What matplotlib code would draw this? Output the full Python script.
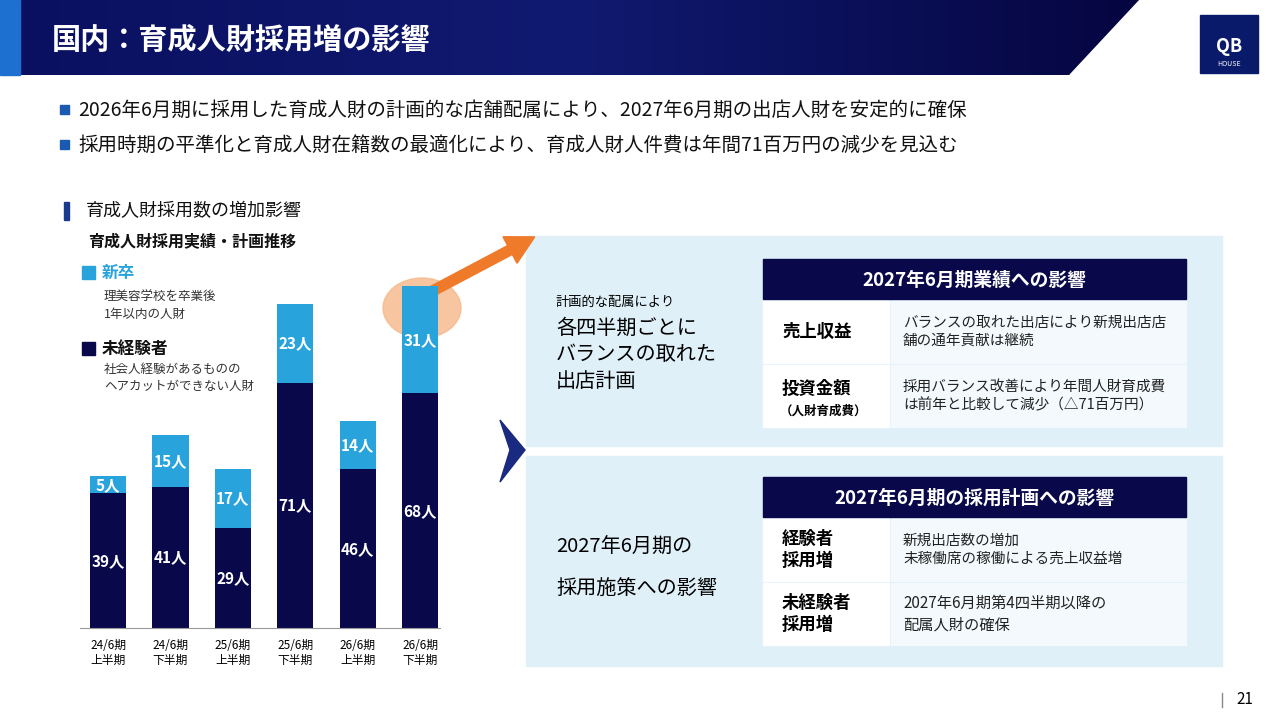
import numpy as np
import matplotlib.pyplot as plt
from matplotlib.patches import Rectangle, Polygon, FancyArrow, Ellipse

plt.rcParams['font.family'] = ['Noto Sans CJK JP', 'DejaVu Sans']

periods = ['24/6期\n上半期', '24/6期\n下半期', '25/6期\n上半期', '25/6期\n下半期', '26/6期\n上半期', '26/6期\n下半期']
inexperienced = [39, 41, 29, 71, 46, 68]
new_grads = [5, 15, 17, 23, 14, 31]

NAVY = '#08084a'
BLUE = '#29a3dc'
PANEL = '#dff0f8'

fig = plt.figure(figsize=(12.8, 7.2), dpi=100)
bg = fig.add_axes([0, 0, 1, 1])
bg.set_xlim(0, 1280)
bg.set_ylim(720, 0)
bg.axis('off')

# header
grad = np.linspace(0, 1, 256).reshape(1, -1)
bg.imshow(grad, extent=[0, 1140, 75, 0], cmap=plt.matplotlib.colors.LinearSegmentedColormap.from_list('h', ['#0a1060', '#101a70', '#050540']), aspect='auto', zorder=0)
bg.add_patch(Polygon([[1070, 75], [1140, 0], [1280, 0], [1280, 75]], color='white', zorder=1))
bg.add_patch(Rectangle((0, 0), 20, 75, color='#1d6fd0', zorder=1))
bg.text(52, 40, '国内：育成人財採用増の影響', color='white', fontsize=21, fontweight='bold', va='center')
bg.add_patch(Rectangle((1200, 15), 58, 58, color='#0a1a6a', zorder=2))
bg.text(1229, 46, 'QB', color='white', fontsize=13, fontweight='bold', ha='center', va='center', zorder=3)
bg.text(1229, 64, 'HOUSE', color='white', fontsize=5, ha='center', va='center', zorder=3)

for y, t in [(110, '2026年6月期に採用した育成人財の計画的な店舗配属により、2027年6月期の出店人財を安定的に確保'),
             (145, '採用時期の平準化と育成人財在籍数の最適化により、育成人財人件費は年間71百万円の減少を見込む')]:
    bg.add_patch(Rectangle((60, y - 5), 9, 9, color='#1a5ab0'))
    bg.text(78, y, t, fontsize=14, va='center', color='#111111')

bg.add_patch(Rectangle((64, 202), 5, 18, color='#1a3a90'))
bg.text(86, 211, '育成人財採用数の増加影響', fontsize=13, va='center', color='#111')
bg.text(88, 241, '育成人財採用実績・計画推移', fontsize=11.5, va='center', color='#111', fontweight='bold')

bg.add_patch(Rectangle((82, 266), 13, 13, color=BLUE))
bg.text(102, 273, '新卒', fontsize=12, va='center', color=BLUE, fontweight='bold')
bg.text(104, 306, '理美容学校を卒業後\n1年以内の人財', fontsize=9, va='center', color='#333', linespacing=1.4)
bg.add_patch(Rectangle((82, 342), 13, 13, color=NAVY))
bg.text(102, 349, '未経験者', fontsize=12, va='center', color='#111', fontweight='bold')
bg.text(104, 378, '社会人経験があるものの\nヘアカットができない人財', fontsize=9, va='center', color='#333', linespacing=1.4)

# highlight + arrow
bg.add_patch(Ellipse((422, 308), 78, 60, color='#f5b88a', alpha=0.8, zorder=1))
bg.add_patch(FancyArrow(425, 295, 85, -45, width=10, head_width=30, head_length=28, color='#ef7a2a', zorder=5))

# right panels
bg.add_patch(Rectangle((526, 236), 696, 210, color=PANEL))
bg.add_patch(Rectangle((526, 456), 696, 210, color=PANEL))
bg.add_patch(Polygon([[500, 420], [525, 450], [500, 482], [510, 450]], color='#1a2a80'))
bg.text(556, 302, '計画的な配属により', fontsize=9.5, va='center')
bg.text(556, 355, '各四半期ごとに\nバランスの取れた\n出店計画', fontsize=14.5, va='center', linespacing=1.35)
bg.text(556, 568, '2027年6月期の\n\n採用施策への影響', fontsize=14.5, va='center', linespacing=1.0)

def table(y0, title, rows):
    bg.add_patch(Rectangle((763, y0), 423, 40, color=NAVY))
    bg.text(974, y0 + 21, title, color='white', fontsize=13.5, fontweight='bold', ha='center', va='center')
    y = y0 + 42
    for head, sub, body, fs in rows:
        bg.add_patch(Rectangle((763, y), 126, 62, color='white'))
        bg.add_patch(Rectangle((891, y), 295, 62, color='#f3f9fc'))
        if sub:
            bg.text(782, y + 24, head, fontsize=12.5, va='center', fontweight='bold')
            bg.text(780, y + 46, sub, fontsize=9, va='center', fontweight='bold')
        else:
            bg.text(782, y + 31, head, fontsize=12.5, va='center', fontweight='bold', linespacing=1.3)
        bg.text(903, y + 31, body, fontsize=fs, va='center', linespacing=1.4, color='#222')
        y += 64

table(259, '2027年6月期業績への影響',
      [('売上収益', None, 'バランスの取れた出店により新規出店店\n舗の通年貢献は継続', 10.5),
       ('投資金額', '（人財育成費）', '採用バランス改善により年間人財育成費\nは前年と比較して減少（△71百万円）', 10.5)])
table(477, '2027年6月期の採用計画への影響',
      [('経験者\n採用増', None, '新規出店数の増加\n未稼働席の稼働による売上収益増', 10.5),
       ('未経験者\n採用増', None, '2027年6月期第4四半期以降の\n配属人財の確保', 11)])

bg.plot([1222, 1222], [693, 707], color='#888', lw=1)
bg.text(1236, 700, '21', fontsize=11, va='center')

# bar chart
ax = fig.add_axes([80 / 1280, (720 - 628) / 720, 360 / 1280, 345 / 720])
x = np.arange(len(periods))
ax.bar(x, inexperienced, width=0.58, color=NAVY)
ax.bar(x, new_grads, bottom=inexperienced, width=0.58, color=BLUE)
for i in x:
    ax.text(i, inexperienced[i] * 0.5, f'{inexperienced[i]}人', color='white', ha='center', va='center', fontsize=11, fontweight='bold')
    ax.text(i, inexperienced[i] + new_grads[i] * 0.5, f'{new_grads[i]}人', color='white', ha='center', va='center', fontsize=11, fontweight='bold')
ax.set_xlim(-0.45, 5.32)
ax.set_ylim(0, 100)
ax.set_xticks(x)
ax.set_xticklabels(periods, fontsize=8.5, linespacing=1.2)
ax.tick_params(length=0, pad=8)
ax.set_yticks([])
for s in ['top', 'right', 'left']:
    ax.spines[s].set_visible(False)
ax.spines['bottom'].set_color('#999')
ax.patch.set_alpha(0)

fig.savefig('out.png', dpi=100)
